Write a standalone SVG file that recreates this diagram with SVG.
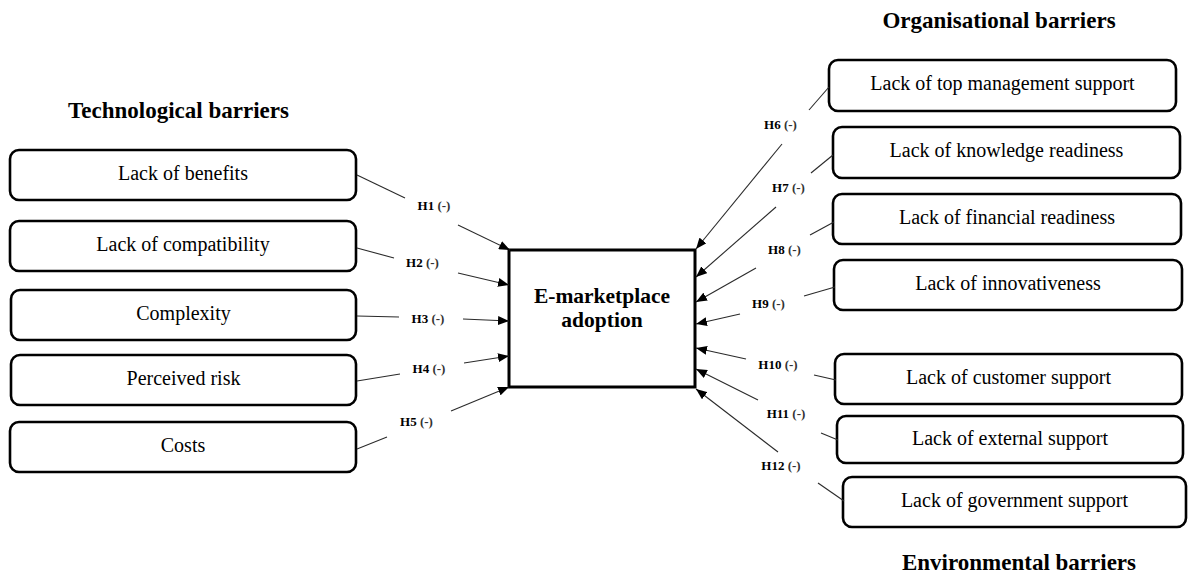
<svg xmlns="http://www.w3.org/2000/svg" width="1189" height="574" viewBox="0 0 1189 574">
  <style>
    .bg { fill: #ffffff; }
    .node rect { fill: #ffffff; stroke: #000000; stroke-width: 2.6; }
    .node text { font-family: "Liberation Serif", "Times New Roman", serif; font-size: 20px; fill: #000000; text-anchor: middle; }
    .core rect { fill: #ffffff; stroke: #000000; stroke-width: 3; }
    .core text { font-family: "Liberation Serif", "Times New Roman", serif; font-size: 21.5px; font-weight: bold; fill: #000000; text-anchor: middle; }
    .heading { font-family: "Liberation Serif", "Times New Roman", serif; font-size: 23px; font-weight: bold; fill: #000000; text-anchor: middle; }
    .tail { stroke: #2a2a2a; stroke-width: 1.1; fill: none; }
    .arrow { stroke: #2a2a2a; stroke-width: 1.1; fill: none; marker-end: url(#head); }
    .hyp { font-family: "Liberation Serif", "Times New Roman", serif; font-size: 13px; font-weight: bold; fill: #000000; text-anchor: middle; }
    .hyp tspan.sign { fill: #333333; }
  </style>
  <defs>
    <marker id="head" markerUnits="userSpaceOnUse" markerWidth="12" markerHeight="9" refX="11" refY="4.5" orient="auto">
      <path d="M0,0 L11,4.5 L0,9 z" fill="#000000"/>
    </marker>
  </defs>

  <rect class="bg" x="0" y="0" width="1189" height="574"/>

  <!-- group headings -->
  <text class="heading" x="178.5" y="118">Technological barriers</text>
  <text class="heading" x="999" y="28">Organisational barriers</text>
  <text class="heading" x="1019" y="570">Environmental barriers</text>

  <!-- central construct -->
  <g id="adoption" class="core">
    <rect x="509" y="250" width="186" height="137"/>
    <text x="602" y="303">E-marketplace</text>
    <text x="602" y="327">adoption</text>
  </g>

  <!-- technological barriers -->
  <g id="lack-of-benefits" class="node">
    <rect x="10" y="150" width="346" height="50" rx="9"/>
    <text x="183" y="180">Lack of benefits</text>
  </g>
  <g id="lack-of-compatibility" class="node">
    <rect x="10" y="221" width="346" height="50" rx="9"/>
    <text x="183" y="251">Lack of compatibility</text>
  </g>
  <g id="complexity" class="node">
    <rect x="11" y="290" width="345" height="50" rx="9"/>
    <text x="183.5" y="320">Complexity</text>
  </g>
  <g id="perceived-risk" class="node">
    <rect x="11" y="355" width="345" height="50" rx="9"/>
    <text x="183.5" y="385">Perceived risk</text>
  </g>
  <g id="costs" class="node">
    <rect x="10" y="422" width="346" height="50" rx="9"/>
    <text x="183" y="452">Costs</text>
  </g>

  <!-- organisational barriers -->
  <g id="lack-of-top-management-support" class="node">
    <rect x="829" y="60" width="347" height="51" rx="9"/>
    <text x="1002.5" y="90">Lack of top management support</text>
  </g>
  <g id="lack-of-knowledge-readiness" class="node">
    <rect x="833" y="127" width="347" height="51" rx="9"/>
    <text x="1006.5" y="157">Lack of knowledge readiness</text>
  </g>
  <g id="lack-of-financial-readiness" class="node">
    <rect x="833" y="194" width="348" height="50" rx="9"/>
    <text x="1007" y="224">Lack of financial readiness</text>
  </g>
  <g id="lack-of-innovativeness" class="node">
    <rect x="834" y="260" width="348" height="50" rx="9"/>
    <text x="1008" y="290">Lack of innovativeness</text>
  </g>

  <!-- environmental barriers -->
  <g id="lack-of-customer-support" class="node">
    <rect x="835" y="354" width="347" height="50" rx="9"/>
    <text x="1008.5" y="384">Lack of customer support</text>
  </g>
  <g id="lack-of-external-support" class="node">
    <rect x="837" y="416" width="346" height="47" rx="9"/>
    <text x="1010" y="445">Lack of external support</text>
  </g>
  <g id="lack-of-government-support" class="node">
    <rect x="843" y="477" width="343" height="50" rx="9"/>
    <text x="1014.5" y="507">Lack of government support</text>
  </g>

  <!-- hypothesised paths: a tail from the barrier, a gap for the label, an arrow into the construct -->
  <g id="connectors">
    <line class="tail" x1="357" y1="175" x2="405" y2="198"/>
    <line class="arrow" x1="458" y1="225" x2="510" y2="250"/>
    <line class="tail" x1="357" y1="248" x2="394" y2="258"/>
    <line class="arrow" x1="458" y1="273" x2="509" y2="285"/>
    <line class="tail" x1="357" y1="316" x2="399" y2="317"/>
    <line class="arrow" x1="463" y1="319" x2="509" y2="321"/>
    <line class="tail" x1="357" y1="381" x2="400" y2="374"/>
    <line class="arrow" x1="464" y1="363" x2="509" y2="356"/>
    <line class="tail" x1="357" y1="449" x2="387" y2="437"/>
    <line class="arrow" x1="451" y1="411" x2="509" y2="387"/>

    <line class="tail" x1="829" y1="87" x2="809" y2="110"/>
    <line class="arrow" x1="782" y1="144" x2="696" y2="249"/>
    <line class="tail" x1="833" y1="155" x2="811" y2="173"/>
    <line class="arrow" x1="776" y1="207" x2="696" y2="277"/>
    <line class="tail" x1="834" y1="222" x2="810" y2="235"/>
    <line class="arrow" x1="756" y1="268" x2="696" y2="302"/>
    <line class="tail" x1="835" y1="287" x2="804" y2="296"/>
    <line class="arrow" x1="740" y1="314" x2="696" y2="324"/>

    <line class="tail" x1="836" y1="380" x2="814" y2="375"/>
    <line class="arrow" x1="746" y1="359" x2="696" y2="348"/>
    <line class="tail" x1="838" y1="440" x2="821" y2="433"/>
    <line class="arrow" x1="758" y1="400" x2="696" y2="369"/>
    <line class="tail" x1="844" y1="501" x2="818" y2="483"/>
    <line class="arrow" x1="778" y1="452" x2="696" y2="389"/>
  </g>

  <!-- hypothesis labels -->
  <g id="hypotheses">
    <text class="hyp" x="434" y="210">H1 <tspan class="sign">(-)</tspan></text>
    <text class="hyp" x="422.5" y="267">H2 <tspan class="sign">(-)</tspan></text>
    <text class="hyp" x="428" y="323">H3 <tspan class="sign">(-)</tspan></text>
    <text class="hyp" x="429" y="373">H4 <tspan class="sign">(-)</tspan></text>
    <text class="hyp" x="416.5" y="426">H5 <tspan class="sign">(-)</tspan></text>
    <text class="hyp" x="780.5" y="129">H6 <tspan class="sign">(-)</tspan></text>
    <text class="hyp" x="788.5" y="192">H7 <tspan class="sign">(-)</tspan></text>
    <text class="hyp" x="784.5" y="254">H8 <tspan class="sign">(-)</tspan></text>
    <text class="hyp" x="768.5" y="308">H9 <tspan class="sign">(-)</tspan></text>
    <text class="hyp" x="778" y="369">H10 <tspan class="sign">(-)</tspan></text>
    <text class="hyp" x="786" y="418">H11 <tspan class="sign">(-)</tspan></text>
    <text class="hyp" x="781" y="470">H12 <tspan class="sign">(-)</tspan></text>
  </g>
</svg>
